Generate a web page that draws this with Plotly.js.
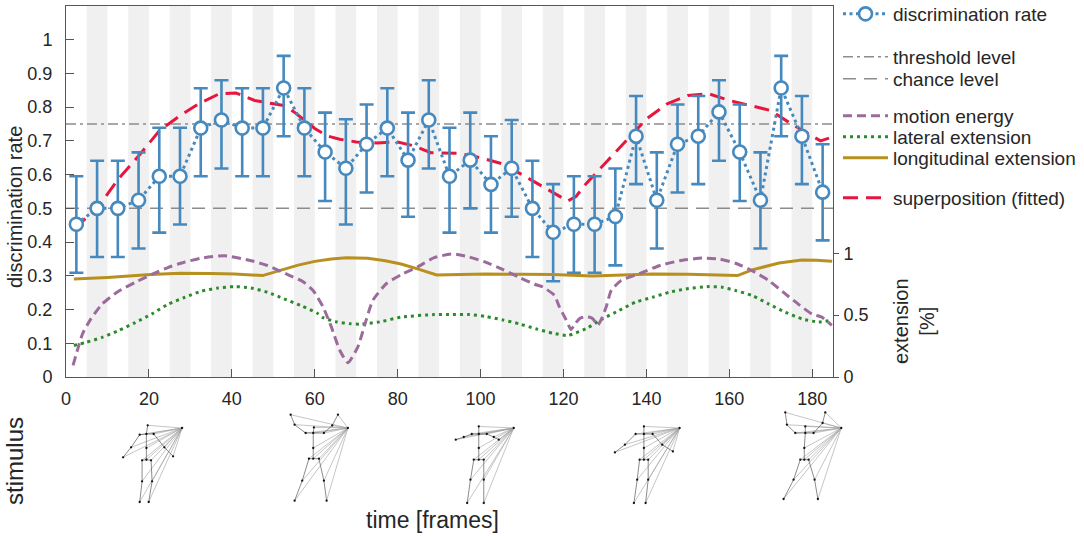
<!DOCTYPE html>
<html><head><meta charset="utf-8">
<script src="https://cdn.plot.ly/plotly-3.0.1.min.js"></script>
<style>html,body{margin:0;padding:0;background:#fff}#chart{width:1084px;height:536px}</style>
</head><body><div id="chart"></div>
<script>
// ---------- data ----------
const rateFrames = [2.5,7.5,12.5,17.5,22.5,27.5,32.5,37.5,42.5,47.5,52.5,57.5,62.5,67.5,72.5,77.5,82.5,87.5,92.5,97.5,102.5,107.5,112.5,117.5,122.5,127.5,132.5,137.5,142.5,147.5,152.5,157.5,162.5,167.5,172.5,177.5,182.5];
const rateValues = [0.453,0.5,0.5,0.524,0.595,0.595,0.738,0.762,0.738,0.738,0.857,0.738,0.667,0.619,0.69,0.738,0.643,0.762,0.595,0.643,0.571,0.619,0.5,0.429,0.453,0.453,0.476,0.714,0.524,0.69,0.714,0.786,0.667,0.524,0.857,0.714,0.548];
const rateUpper = [0.595,0.641,0.641,0.666,0.739,0.739,0.856,0.880,0.856,0.856,0.952,0.856,0.784,0.764,0.808,0.856,0.784,0.880,0.739,0.784,0.714,0.762,0.641,0.572,0.595,0.595,0.618,0.833,0.666,0.808,0.833,0.880,0.808,0.666,0.952,0.833,0.690];
const rateLower = [0.309,0.356,0.356,0.381,0.428,0.452,0.595,0.618,0.595,0.595,0.714,0.595,0.522,0.452,0.547,0.595,0.475,0.618,0.428,0.5,0.428,0.475,0.356,0.284,0.309,0.309,0.331,0.572,0.381,0.547,0.572,0.641,0.522,0.381,0.714,0.572,0.405];

const fitFrames = [2,7.5,12.5,17.5,22.5,27.5,32,37,41,45.5,50,52.5,55,58,60,63,66,70,75,80,84,88,95,100,105,110,115,118,121,123,125.5,130,135,140,145,150,155,160,165,170,175,182,185];
const fitValues = [0.44,0.50,0.585,0.655,0.73,0.775,0.81,0.84,0.842,0.82,0.81,0.805,0.786,0.755,0.737,0.715,0.705,0.697,0.694,0.697,0.685,0.665,0.663,0.65,0.633,0.60,0.565,0.545,0.522,0.535,0.574,0.633,0.70,0.765,0.81,0.835,0.84,0.82,0.805,0.79,0.75,0.70,0.712];

const motionFrames = [1.7,4,6,8.7,12.5,16.7,20.7,24.7,28.7,32.7,38.3,44.7,48.7,54,57.2,59.6,62,64,66,68,70.4,72.4,74,77.3,81,84.8,88.8,93.3,97.3,101.3,105.3,109.3,113,115,117.8,119,120.5,121.8,122.8,123.9,125.5,127,128.3,129.3,130.3,131.5,133.9,138.3,143.1,148,153.5,157.5,161.5,165.5,169.5,173.5,177,179.9,182.3,184.7];
const motionValues = [0.094,0.35,0.47,0.59,0.69,0.766,0.83,0.887,0.93,0.962,0.981,0.94,0.90,0.82,0.77,0.70,0.567,0.405,0.218,0.115,0.244,0.46,0.62,0.756,0.83,0.89,0.965,0.995,0.97,0.927,0.87,0.806,0.75,0.728,0.661,0.567,0.47,0.385,0.43,0.473,0.49,0.473,0.42,0.48,0.567,0.70,0.78,0.836,0.90,0.94,0.962,0.954,0.92,0.86,0.78,0.672,0.58,0.51,0.484,0.417];

const lateralFrames = [1.9,4.8,8.7,12.7,16.7,20.7,24.7,28.7,32.7,36.7,40.6,44.6,48.6,52.6,56.6,60.6,62,65.2,68.7,70.9,75.7,80.8,88.8,93.3,97.3,101.3,105.3,109.3,113.3,117.4,121,125.4,129.4,133.4,137.4,141.5,145.5,149.5,155.1,158.3,161.5,165.5,169.5,173.5,177.5,181.5,184.7];
const lateralValues = [0.255,0.28,0.32,0.376,0.44,0.51,0.59,0.645,0.694,0.72,0.731,0.72,0.685,0.632,0.578,0.516,0.48,0.446,0.43,0.427,0.446,0.484,0.505,0.505,0.505,0.489,0.462,0.43,0.39,0.355,0.336,0.39,0.47,0.538,0.605,0.645,0.685,0.712,0.731,0.726,0.699,0.659,0.59,0.524,0.47,0.445,0.46];

const longFrames = [1.9,10,20.4,27.5,35,40.6,47.4,52.5,56,60,64,67.6,72.8,77,80.8,84.8,89.4,95,101.3,110,117.4,127,135,141.5,150,162,165.5,169,172,177.5,181,184.8];
const longValues = [0.793,0.805,0.828,0.839,0.836,0.833,0.82,0.874,0.905,0.935,0.955,0.965,0.96,0.94,0.914,0.874,0.825,0.828,0.833,0.830,0.828,0.817,0.826,0.833,0.830,0.82,0.866,0.895,0.922,0.946,0.945,0.935];

const thresholdLevel = 0.75;
const chanceLevel = 0.5;
const stripeStarts = [5,15,25,35,45,55,65,75,85,95,105,115,125,135,145,155,165,175];
const stripeWidth = 5;
const leftTicks = [0,0.1,0.2,0.3,0.4,0.5,0.6,0.7,0.8,0.9,1];
const rightTicks = [0,0.5,1];
const xTicks = [0,20,40,60,80,100,120,140,160,180];

// stimulus stick figures: apex frame and joint offsets (in stimulus units) from the apex
const stimFrames = [28,68,108,148,187];
const stimDx = [
  [-34.4,-35.7,-42.4,-28.4,-51,-59,-17.7,-9,-35.7,-35.7,-40,-31,-40,-30,-42.4,-33.4],
  [-34,-34.7,-42.3,-24,-53.3,-57.3,-15.7,-10,-34.7,-34.7,-39,-29,-45.7,-24,-53.3,-21.3],
  [-35,-35,-42,-27,-50,-58,-20,-15,-35,-35,-40,-30,-43.3,-30,-46.6,-30],
  [-35.7,-35.7,-44,-27,-54.7,-64.7,-17.4,-6.7,-35.7,-35.7,-40,-31.4,-42.4,-31.4,-45.7,-34],
  [-36,-36,-46,-27.7,-54.4,-56,-18.7,-16,-37,-37,-41,-32.7,-47.7,-26.7,-57.7,-23.4]
];
const stimDy = [
  [-2.7,6,6.7,6,19.3,29.3,19.3,28.3,20,31.7,32.3,32.3,53.3,53.3,74,74],
  [-0.6,5,5,5,-3.3,-13.3,-2.6,-13.3,20,30.7,30.7,30.7,52.7,52.7,72.7,72.7],
  [-1.6,6,6,6,9,11.7,9,11.7,20,31.7,31.7,31.7,51.7,51.7,75,75],
  [-1.6,6,6,6,16.7,24.4,16.7,23.4,20,31.7,31.7,31.7,51.7,51.7,75,75],
  [-1.6,5,5,5,-3.3,-15.6,-5,-15.6,20,31.7,31.7,31.7,51.7,51.7,71,71]
];
const bones = [[0,1],[1,2],[1,3],[2,4],[4,5],[3,6],[6,7],[1,8],[8,9],[9,10],[9,11],[10,12],[12,14],[11,13],[13,15]];

// ---------- layout constants ----------
const W = 1084, H = 536;
const FONT = 'Liberation Sans, Arial, Helvetica, sans-serif';
const TXT = '#262626';
const AX = '#555555';
const PX_PER_FRAME = 767/185;
const APEX_Y = 22;

const px = v => v / W;
const py = v => 1 - v / H;

// ---------- traces ----------
const traces = [];
traces.push({x:[0,185], y:[thresholdLevel,thresholdLevel], type:'scatter', mode:'lines', name:'threshold level',
  line:{color:'#8c8c8c', width:1.5, dash:'10px,4px,3px,4px'}, legend:'legend2', hoverinfo:'skip'});
traces.push({x:[0,185], y:[chanceLevel,chanceLevel], type:'scatter', mode:'lines', name:'chance level',
  line:{color:'#8c8c8c', width:1.5, dash:'13px,8px'}, legend:'legend3', hoverinfo:'skip'});
traces.push({x:fitFrames, y:fitValues, type:'scatter', mode:'lines', name:'superposition (fitted)',
  line:{color:'#e5173f', width:3, dash:'15px,8px'}, legend:'legend7'});
traces.push({x:rateFrames, y:rateValues, type:'scatter', mode:'lines+markers', name:'discrimination rate',
  line:{color:'#4689be', width:3, dash:'3px,3.5px'},
  marker:{symbol:'circle', size:13, color:'#ffffff', line:{color:'#4689be', width:2.6}},
  error_y:{type:'data', symmetric:false,
    array: rateUpper.map((u,i)=>u-rateValues[i]),
    arrayminus: rateLower.map((l,i)=>rateValues[i]-l),
    color:'#4689be', thickness:2.6, width:7},
  legend:'legend'});
traces.push({x:longFrames, y:longValues, yaxis:'y2', type:'scatter', mode:'lines', name:'longitudinal extension',
  line:{color:'#b8901f', width:3}, legend:'legend6'});
traces.push({x:lateralFrames, y:lateralValues, yaxis:'y2', type:'scatter', mode:'lines', name:'lateral extension',
  line:{color:'#2b8a2b', width:3, dash:'3px,4px', shape:'spline', smoothing:0.6}, legend:'legend5'});
traces.push({x:motionFrames, y:motionValues, yaxis:'y2', type:'scatter', mode:'lines', name:'motion energy',
  line:{color:'#9b6b9b', width:3, dash:'9px,5px', shape:'spline', smoothing:0.5}, legend:'legend4'});

// stick figures
const rayX=[], rayY=[], boneX=[], boneY=[], jX=[], jY=[];
stimFrames.forEach((f,k)=>{
  const xs = stimDx[k].map(d => f + d/PX_PER_FRAME);
  const ys = stimDy[k].map(d => APEX_Y + d);
  xs.forEach((x,i)=>{ rayX.push(f, x, null); rayY.push(APEX_Y, ys[i], null); });
  bones.forEach(([a,b])=>{ boneX.push(xs[a], xs[b], null); boneY.push(ys[a], ys[b], null); });
  jX.push(...xs, f); jY.push(...ys, APEX_Y);
});
traces.push({x:rayX, y:rayY, xaxis:'x3', yaxis:'y3', type:'scatter', mode:'lines', showlegend:false,
  line:{color:'#9e9e9e', width:0.6}, hoverinfo:'skip'});
traces.push({x:boneX, y:boneY, xaxis:'x3', yaxis:'y3', type:'scatter', mode:'lines', showlegend:false,
  line:{color:'#5a5a5a', width:0.7}, hoverinfo:'skip'});
traces.push({x:jX, y:jY, xaxis:'x3', yaxis:'y3', type:'scatter', mode:'markers', showlegend:false,
  marker:{color:'#111111', size:2.3}, hoverinfo:'skip'});

// ---------- layout ----------
const shapes = stripeStarts.map(s => ({type:'rect', xref:'x', yref:'y', x0:s, x1:s+stripeWidth, y0:0, y1:1.1,
  fillcolor:'#f0f0f0', line:{width:0}, layer:'below'}));

function leg(ypx){
  return {x:px(838), xanchor:'left', y:py(ypx), yanchor:'middle', bgcolor:'rgba(0,0,0,0)', borderwidth:0,
    font:{family:FONT, size:19, color:TXT}, itemwidth:45, tracegroupgap:0};
}

const layout = {
  width:W, height:H, margin:{l:0, r:0, t:0, b:0, autoexpand:false},
  paper_bgcolor:'#ffffff', plot_bgcolor:'rgba(0,0,0,0)',
  font:{family:FONT, size:18, color:TXT},
  showlegend:true,
  xaxis:{domain:[px(66), px(833)], range:[0,185], tickvals:xTicks, ticks:'inside', ticklen:8, tickwidth:1,
    tickcolor:AX, showline:true, linecolor:AX, linewidth:1, mirror:true, zeroline:false, showgrid:false,
    tickfont:{size:18, color:TXT}, ticklabelstandoff:5, anchor:'y', automargin:false, fixedrange:true},
  yaxis:{domain:[py(377), py(6)], range:[0,1.1], tickvals:leftTicks, ticks:'inside', ticklen:8, tickwidth:1,
    tickcolor:AX, showline:true, linecolor:AX, linewidth:1, mirror:true, zeroline:false, showgrid:false,
    tickfont:{size:18, color:TXT}, ticklabelstandoff:9, anchor:'x', automargin:false, fixedrange:true},
  yaxis2:{overlaying:'y', side:'right', anchor:'x', range:[0,3], tickvals:rightTicks, ticks:'outside', ticklen:5,
    tickwidth:1, tickcolor:AX, showline:false, zeroline:false, showgrid:false,
    tickfont:{size:18, color:TXT}, ticklabelstandoff:1, automargin:false, fixedrange:true},
  xaxis3:{domain:[px(66), px(860)], range:[0,(860-66)/PX_PER_FRAME], anchor:'y3', visible:false, fixedrange:true},
  yaxis3:{domain:[0, py(406)], range:[130,0], anchor:'x3', visible:false, fixedrange:true},
  shapes:shapes,
  legend:leg(14), legend2:leg(57), legend3:leg(79), legend4:leg(116), legend5:leg(137), legend6:leg(158), legend7:leg(198),
  annotations:[
    {text:'discrimination rate', xref:'paper', yref:'paper', x:px(15), y:py(207), textangle:-90, showarrow:false,
      font:{size:20, color:TXT}, xanchor:'center', yanchor:'middle'},
    {text:'extension<br>[%]', xref:'paper', yref:'paper', x:px(914), y:py(321), textangle:-90, showarrow:false,
      font:{size:20, color:TXT}, xanchor:'center', yanchor:'middle'},
    {text:'stimulus', xref:'paper', yref:'paper', x:px(14), y:py(461), textangle:-90, showarrow:false,
      font:{size:24, color:TXT}, xanchor:'center', yanchor:'middle'},
    {text:'time [frames]', xref:'paper', yref:'paper', x:px(432), y:py(520), showarrow:false,
      font:{size:23, color:TXT}, xanchor:'center', yanchor:'middle'}
  ]
};

Plotly.newPlot('chart', traces, layout, {displayModeBar:false, staticPlot:true});
</script>
</body></html>
